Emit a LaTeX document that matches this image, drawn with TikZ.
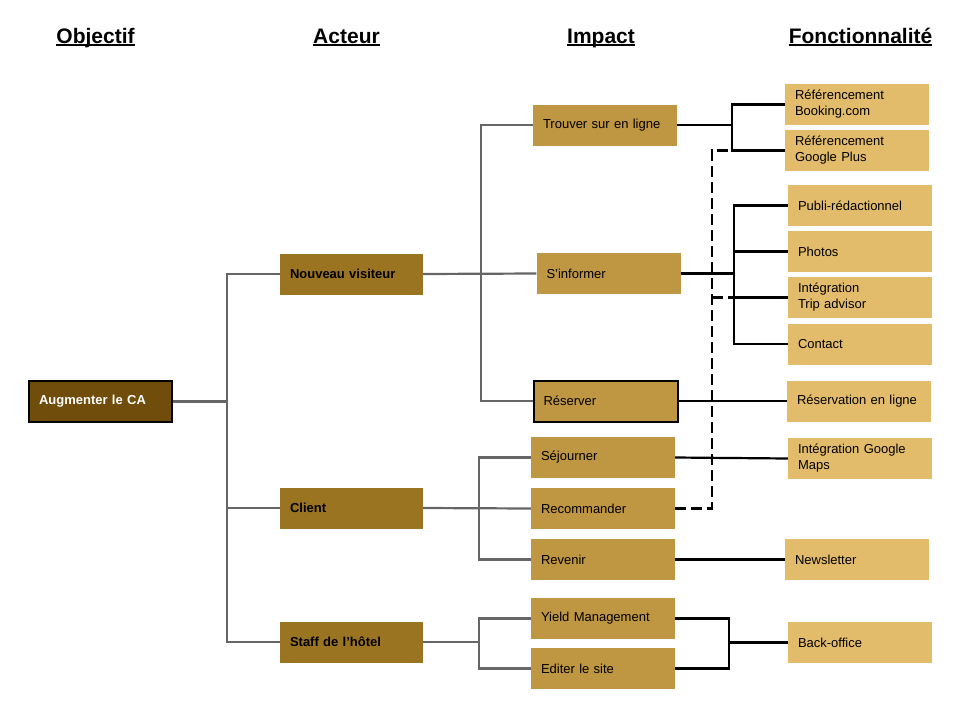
\documentclass[tikz,border=0pt]{standalone}
\usepackage{fontspec}
\setmainfont{Liberation Sans}
\definecolor{cobj}{HTML}{704D0A}
\definecolor{cact}{HTML}{9B7422}
\definecolor{cimp}{HTML}{BF9641}
\definecolor{cfun}{HTML}{E3BC6B}
\definecolor{gline}{HTML}{666666}
\tikzset{
  bx/.style={rectangle, inner xsep=10pt, inner ysep=2pt, text width=124pt, align=left,
    minimum height=41pt, font=\fontsize{13}{16}\selectfont, draw=none},
  objbox/.style={bx, fill=cobj, draw=black, line width=2pt, text=white, font=\fontsize{13}{16}\selectfont\bfseries, text width=123pt, minimum height=41pt},
  actbox/.style={bx, fill=cact, font=\fontsize{13}{16}\selectfont\bfseries, text width=123pt},
  impbox/.style={bx, fill=cimp},
  funbox/.style={bx, fill=cfun},
  hdr/.style={inner sep=0pt, anchor=base, font=\fontsize{21}{24}\selectfont\bfseries},
  gl/.style={draw=gline, line width=2.2pt},
  bl/.style={draw=black, line width=2.2pt},
  dl/.style={draw=black, line width=2.2pt, dash pattern=on 11pt off 5pt}
}
\begin{document}
\begin{tikzpicture}[x=1pt,y=-1pt]
\useasboundingbox (0,0) rectangle (960,720);
% headers
\node[hdr] (h1) at (95.5,43) {Objectif};
\node[hdr] (h2) at (346.5,43) {Acteur};
\node[hdr] (h3) at (601,43) {Impact};
\node[hdr] (h4) at (860.5,43) {Fonctionnalité};
\foreach \h in {h1,h2,h3,h4}{
  \draw[line width=1.8pt] ([yshift=-2.2pt]\h.base west) -- ([yshift=-2.2pt]\h.base east);
}
% objective
\node[objbox] (obj) at (100.5,401.5) {Augmenter le CA};
% actors
\node[actbox] (nv) at (351.5,274) {Nouveau visiteur};
\node[actbox] (cl) at (351.5,508) {Client};
\node[actbox] (st) at (351.5,642) {Staff de l’hôtel};
% impacts
\node[impbox] (tr) at (605,125) {Trouver sur en ligne};
\node[impbox] (si) at (608.5,273.5) {S’informer};
\node[impbox, draw=black, line width=2pt] (re) at (605.5,401) {Réserver};
\node[impbox] (se) at (603,457.5) {Séjourner};
\node[impbox] (rc) at (603,508.5) {Recommander};
\node[impbox] (rv) at (603,559.5) {Revenir};
\node[impbox] (ym) at (603,618.5) {Yield Management};
\node[impbox] (ed) at (603,668.5) {Editer le site};
% features
\node[funbox] (f1) at (857,104.5) {Référencement\\Booking.com};
\node[funbox] (f2) at (857,150.5) {Référencement\\Google Plus};
\node[funbox] (f3) at (860,205.5) {Publi-rédactionnel};
\node[funbox] (f4) at (860,251.5) {Photos};
\node[funbox] (f5) at (860,297.5) {Intégration\\Trip advisor};
\node[funbox] (f6) at (860,344) {Contact};
\node[funbox] (f7) at (859,401) {Réservation en ligne};
\node[funbox] (f8) at (860,458.5) {Intégration Google\\Maps};
\node[funbox] (f9) at (857,559.5) {Newsletter};
\node[funbox] (f10) at (860,642.5) {Back-office};
% trunk coordinates
\coordinate (t1) at (227,0);
\coordinate (t2) at (481,0);
\coordinate (t3) at (479,0);
\coordinate (b1) at (732,0);
\coordinate (b2) at (734,0);
\coordinate (b3) at (729,0);
\coordinate (d) at (712,0);
% left tree
\draw[gl] (nv.west) -- (nv.west -| t1) -- (st.west -| t1) -- (st.west);
\draw[gl] (cl.west) -- (cl.west -| t1);
\draw[gl] (obj.east) -- (obj.east -| t1);
% nouveau visiteur tree
\draw[gl] (tr.west) -- (tr.west -| t2) -- (re.west -| t2) -- (re.west);
\draw[gl] (nv.east) -- (si.west);
% client tree
\draw[gl] (se.west) -- (se.west -| t3) -- (rv.west -| t3) -- (rv.west);
\draw[gl] (cl.east) -- (rc.west);
% staff tree
\draw[gl] (ym.west) -- (ym.west -| t3) -- (ed.west -| t3) -- (ed.west);
\draw[gl] (st.east) -- (st.east -| t3);
% dashed
\draw[dl] (rc.east) -- (rc.east -| d) -- (f2.west -| d) -- (f2.west -| b1);
\draw[dl] (f5.west -| d) -- (f5.west -| b2);
% right connectors
\draw[bl] (f1.west) -- (f1.west -| b1) -- (f2.west -| b1) -- (f2.west);
\draw[bl] (tr.east) -- (tr.east -| b1);
\draw[bl] (f3.west) -- (f3.west -| b2) -- (f6.west -| b2) -- (f6.west);
\draw[bl] (f4.west) -- (f4.west -| b2);
\draw[bl] (f5.west) -- (f5.west -| b2);
\draw[bl] (si.east) -- (si.east -| b2);
\draw[bl] (re.east) -- (f7.west);
\draw[bl] (se.east) -- (f8.west);
\draw[bl] (rv.east) -- (f9.west);
\draw[bl] (ym.east) -- (ym.east -| b3) -- (ed.east -| b3) -- (ed.east);
\draw[bl] (f10.west) -- (f10.west -| b3);
\end{tikzpicture}
\end{document}
